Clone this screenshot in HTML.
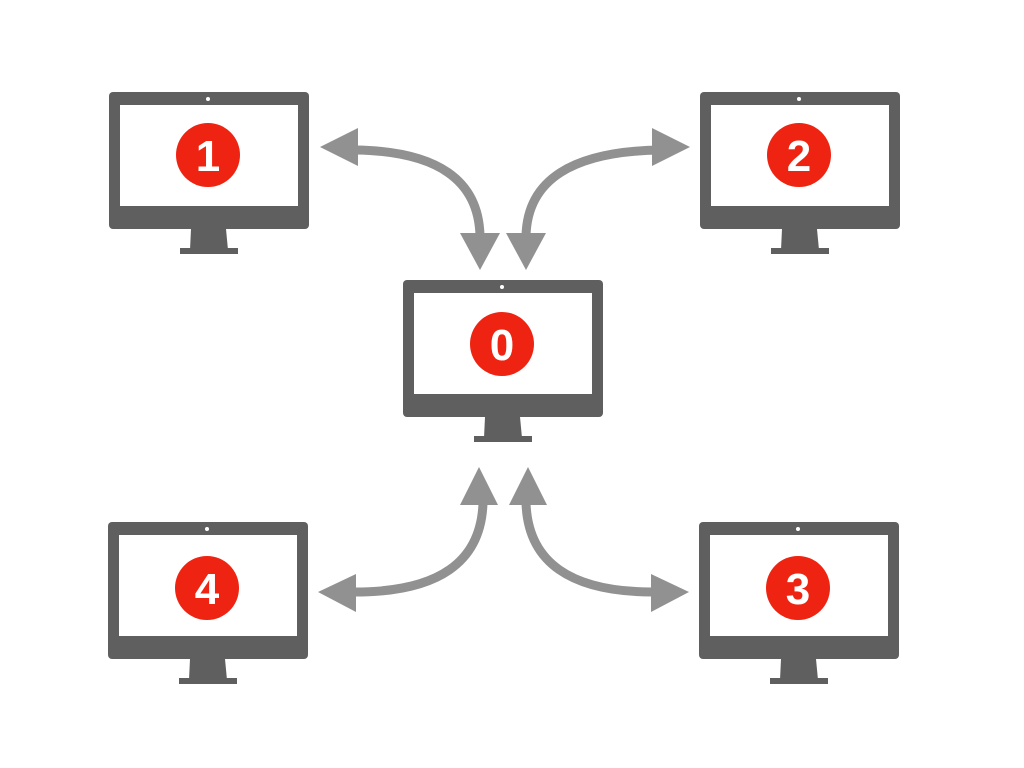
<!DOCTYPE html>
<html><head><style>html,body{margin:0;padding:0;background:#fff;width:1024px;height:768px;overflow:hidden}</style></head>
<body>
<svg width="1024" height="768" viewBox="0 0 1024 768" xmlns="http://www.w3.org/2000/svg">
<defs>
<g id="mon">
<rect x="0" y="0" width="200" height="137" rx="4" fill="#5f5f5f"/>
<rect x="11" y="13" width="178" height="101" fill="#fff"/>
<circle cx="99" cy="7" r="2" fill="#fff"/>
<polygon points="82,137 117,137 119,158 81,158" fill="#5f5f5f"/>
<rect x="71" y="156" width="58" height="6" fill="#5f5f5f"/>
</g>
</defs>
<use href="#mon" x="109" y="92"/>
<use href="#mon" x="700" y="92"/>
<use href="#mon" x="403" y="280"/>
<use href="#mon" x="108" y="522"/>
<use href="#mon" x="699" y="522"/>
<g fill="#ee2311">
<circle cx="208" cy="155" r="32"/>
<circle cx="799" cy="155" r="32"/>
<circle cx="502" cy="344" r="32"/>
<circle cx="207" cy="588" r="32"/>
<circle cx="798" cy="588" r="32"/>
</g>
<g fill="#fff" font-family="Liberation Sans, sans-serif" font-weight="bold" font-size="44" text-anchor="middle">
<text x="208" y="171">1</text>
<text x="799" y="171">2</text>
<text x="502" y="360">0</text>
<text x="207" y="604">4</text>
<text x="798" y="604">3</text>
</g>
<g fill="none" stroke="#919191" stroke-width="9">
<path d="M356,150 Q478,152 480,236"/>
<path d="M660,150 Q528,152 526,236"/>
<path d="M483,503 Q480,592 355,592"/>
<path d="M526,503 Q529,592 653,592"/>
</g>
<g fill="#919191">
<polygon points="320,147 358,128 358,166"/>
<polygon points="480,270 460,233 500,233"/>
<polygon points="690,147 652,128 652,166"/>
<polygon points="526,270 506,233 546,233"/>
<polygon points="479,467 460,505 498,505"/>
<polygon points="318,592 356,574 356,612"/>
<polygon points="528,467 509,505 547,505"/>
<polygon points="689,592 651,574 651,612"/>
</g>
</svg>
</body></html>
